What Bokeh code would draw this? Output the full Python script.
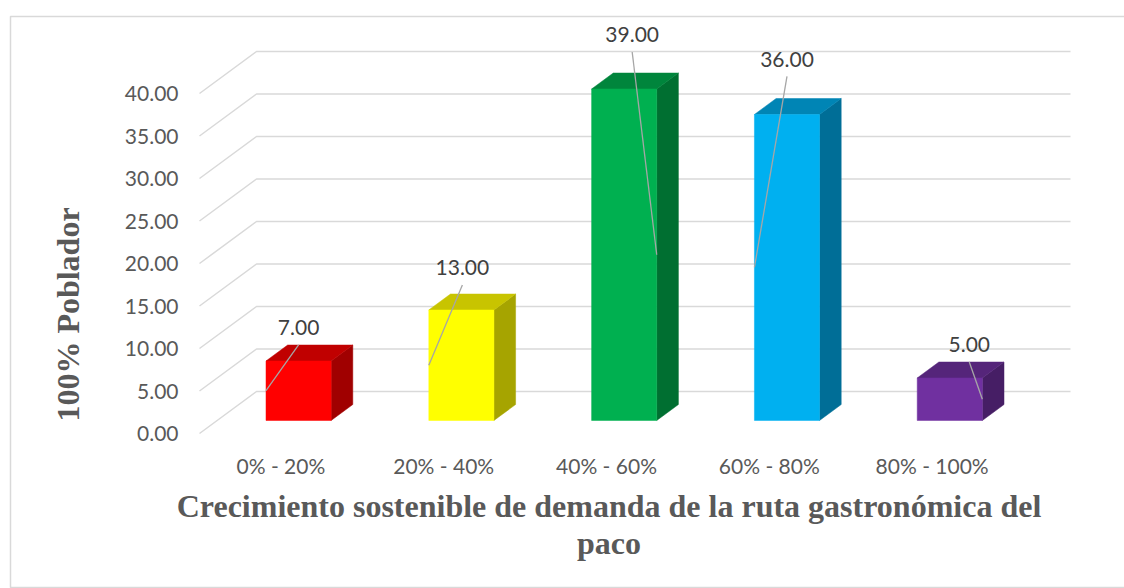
from bokeh.plotting import figure
from bokeh.models import Range1d
from bokeh.core.properties import value
from bokeh.embed import file_html
from bokeh.resources import INLINE
import math

# --- data -------------------------------------------------------------
categories = ["0% - 20%", "20% - 40%", "40% - 60%", "60% - 80%", "80% - 100%"]
values = [7.0, 13.0, 39.0, 36.0, 5.0]
y_ticks = [0, 5, 10, 15, 20, 25, 30, 35, 40]

x_title_1 = "Crecimiento sostenible de demanda de la ruta gastronómica del"
x_title_2 = "paco"
y_title = "100% Poblador"

# --- styling ----------------------------------------------------------
front_colors = ["#FF0000", "#FFFF00", "#00B050", "#00B0F0", "#7030A0"]
top_colors = ["#C00000", "#C8C400", "#00853C", "#0085B5", "#55257A"]
side_colors = ["#A00000", "#A6A400", "#006F31", "#006E97", "#461E65"]

# label placement relative to each bar (pixels: right of centre, above top)
label_dx_px = [0, 1, 8, 0, 19.5]
label_dy_px = [33, 42, 54, 55, 33]
leader_side = ["left", "left", "right", "left", "right"]

# --- geometry: one data unit per category, value units on y ------------
W, H = 1124, 588
PLOT_L, PLOT_R, PLOT_B = 199, 1070, 433     # front-left edge, back wall end, floor
X0, X1 = -0.5, 4.85
PX_X = (PLOT_R - PLOT_L) / (X1 - X0)
PX_Y = 8.5

def px_to_x(px):
    return X0 + (px - PLOT_L) / PX_X

def px_to_y(py):
    return (PLOT_B - py) / PX_Y

DEPTH_X = 57 / PX_X          # oblique depth of the back wall
DEPTH_Y = 42 / PX_Y
F0, F1 = 0.31, 0.69          # bars sit between these depth fractions
BAR_W = 0.4

p = figure(width=W, height=H, output_backend="svg", toolbar_location=None,
           x_range=Range1d(px_to_x(0), px_to_x(W)),
           y_range=Range1d(px_to_y(H), px_to_y(0)),
           x_axis_location=None, y_axis_location=None, min_border=0)
p.outline_line_color = None
p.xgrid.visible = False
p.ygrid.visible = False
p.background_fill_color = "white"
p.border_fill_color = "white"

# chart area border
p.quad(left=[px_to_x(10)], right=[px_to_x(1140)], top=[px_to_y(16)], bottom=[px_to_y(587)],
       fill_color=None, line_color="#D9D9D9", line_width=1.5)

# --- oblique gridlines (front edge -> back wall) -----------------------
grid_xs, grid_ys = [], []
for v in y_ticks:
    grid_xs.append([X0, X0 + DEPTH_X, X1])
    grid_ys.append([v, v + DEPTH_Y, v + DEPTH_Y])
p.multi_line(grid_xs, grid_ys, line_color="#D9D9D9", line_width=1.5)

# --- 3D bars ----------------------------------------------------------
sdx = (F1 - F0) * DEPTH_X
sdy = (F1 - F0) * DEPTH_Y
left, right, base, tops = [], [], [], []
top_xs, top_ys, side_xs, side_ys = [], [], [], []
for i, v in enumerate(values):
    xl = i - BAR_W / 2 + F0 * DEPTH_X
    xr = xl + BAR_W
    yb = F0 * DEPTH_Y
    yt = yb + v
    left.append(xl); right.append(xr); base.append(yb); tops.append(yt)
    top_xs.append([xl, xr, xr + sdx, xl + sdx])
    top_ys.append([yt, yt, yt + sdy, yt + sdy])
    side_xs.append([xr, xr + sdx, xr + sdx, xr])
    side_ys.append([yb, yb + sdy, yt + sdy, yt])

p.patches(side_xs, side_ys, fill_color=side_colors, line_color=side_colors, line_width=0.5)
p.patches(top_xs, top_ys, fill_color=top_colors, line_color=top_colors, line_width=0.5)
p.quad(left=left, right=right, bottom=base, top=tops,
       fill_color=front_colors, line_color=front_colors, line_width=0.5)

# --- data labels with leader lines -------------------------------------
lx, ly, ltxt, lead_xs, lead_ys = [], [], [], [], []
for i, v in enumerate(values):
    cx = (left[i] + right[i]) / 2 + label_dx_px[i] / PX_X
    cy = tops[i] + label_dy_px[i] / PX_Y
    lx.append(cx); ly.append(cy); ltxt.append(f"{v:.2f}")
    ex = left[i] if leader_side[i] == "left" else right[i]
    lead_xs.append([cx, ex])
    lead_ys.append([cy - 17 / PX_Y, base[i] + v / 2])

p.multi_line(lead_xs, lead_ys, line_color="#A6A6A6", line_width=1.3)
p.text(x=lx, y=ly, text=ltxt, text_align="center", text_baseline="middle",
       text_font=value("Lato"), text_font_size="21px", text_color="#404040")

# --- axis tick labels (on the front plane) -----------------------------
p.text(x=[px_to_x(178)] * len(y_ticks), y=y_ticks, text=[f"{t:.2f}" for t in y_ticks],
       text_align="right", text_baseline="middle",
       text_font=value("Lato"), text_font_size="21px", text_color="#595959")
p.text(x=list(range(len(categories))), y=[px_to_y(465)] * len(categories), text=categories,
       text_align="center", text_baseline="middle",
       text_font=value("Lato"), text_font_size="21px", text_color="#595959")

# --- axis titles ------------------------------------------------------
title_style = dict(text_font=value("Liberation Serif"), text_font_style="bold",
                   text_font_size="32px", text_color="#595959")
p.text(x=[px_to_x(608.5), px_to_x(608.5)], y=[px_to_y(505), px_to_y(542)],
       text=[x_title_1, x_title_2], text_align="center", text_baseline="middle",
       **title_style)
p.text(x=[px_to_x(67)], y=[px_to_y(314)], text=[y_title], angle=math.pi / 2,
       text_align="center", text_baseline="middle", **title_style)

open("out.html", "w").write(file_html(p, INLINE))
